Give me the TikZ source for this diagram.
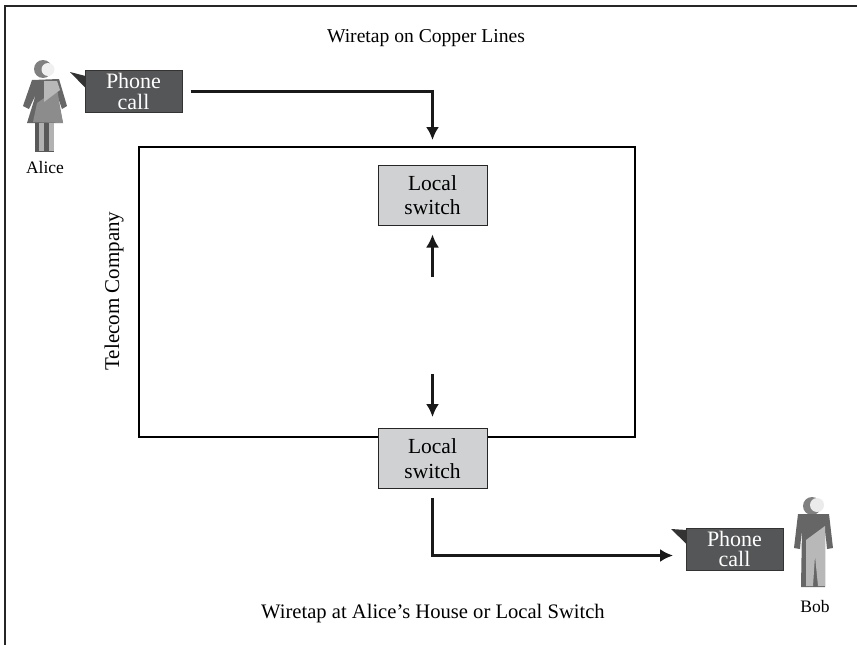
\documentclass[tikz,border=0pt]{standalone}
\usepackage{fontspec}
\setmainfont{Liberation Serif}
\usetikzlibrary{arrows.meta}
\definecolor{callgray}{HTML}{555657}
\definecolor{switchgray}{HTML}{D0D1D2}
\tikzset{
  wire/.style={line width=2.2pt,draw=black!90},
  arrowwire/.style={wire,-{Latex[length=13pt,width=13pt]}},
  callbox/.style={draw=black!80,line width=1pt,fill=callgray,text=white,align=center,
    minimum width=97pt,minimum height=42pt,inner sep=0pt,font=\fontsize{22}{20.5}\selectfont},
  switchbox/.style={draw=black!85,line width=1pt,fill=switchgray,align=center,
    minimum width=109pt,minimum height=60pt,inner sep=0pt,font=\fontsize{21.5}{24.5}\selectfont},
  caption/.style={font=\fontsize{20.6}{24}\selectfont,inner sep=0pt},
  namelabel/.style={font=\fontsize{17.5}{20}\selectfont,inner sep=0pt},
}
\begin{document}
\begin{tikzpicture}[x=1pt,y=-1pt]
\useasboundingbox (0,0) rectangle (857,645);
\draw[line width=1.2pt,black!85] (5,645)--(5,6)--(857,6);

\node[caption,font=\fontsize{19.6}{24}\selectfont] (toptitle) at (426,38) {Wiretap on Copper Lines};
\node[caption] (bottomtitle) at (433,614) {Wiretap at Alice’s House or Local Switch};

% telecom box with the two switches
\node[draw,line width=2.6pt,minimum width=496pt,minimum height=290pt,inner sep=0pt] (telecom) at (387,292) {};
\node[caption,rotate=90,font=\fontsize{21}{24}\selectfont] (telecomlabel) at (114,291) {Telecom Company};
\node[switchbox] (switchtop) at (432.5,195) {Local\\switch};
\node[switchbox] (switchbottom) at (432.5,458.5) {Local\\switch};

% Alice
\fill[black!50] (43,69) circle (9);
\fill[black!6] (48,69.5) circle (6.5);
\fill[black!60,line join=round] (32,80)--(59,79)--(67,106)--(62,109)--(56,92)--(63,123)--(27,123)--(36,94)--(29,109)--(23,106)--cycle;
\fill[black!45] (33,122)--(37,103)--(57,89)--(63,123)--cycle;
\fill[black!28] (44,81)--(57,81)--(60,90)--(44,102)--cycle;
\fill[black!65] (35,123) rectangle (54,152);
\fill[black!30] (39,123) rectangle (44,151);
\fill[black!30] (49,123) rectangle (54,151);
\node[namelabel] (alice) at (45,168) {Alice};

% Bob
\fill[black!50] (812,506) circle (9);
\fill[black!8] (817,505) circle (7);
\fill[black!60,line join=round] (798,514)--(829,514)--(833,548)--(827,549)--(825,528)--(825,587)--(801,587)--(802,528)--(800,549)--(794,548)--cycle;
\fill[black!28] (806,540)--(825,526)--(825,586)--(818,586)--(815,556)--(813,586)--(806,586)--cycle;
\node[namelabel] (bob) at (815,607) {Bob};

% phone calls
\node[callbox] (alicecall) at (133.5,91.5) {Phone\\call};
\fill[black!80] (70,72)--(85.5,76)--(85.5,88)--cycle;
\node[callbox] (bobcall) at (734.5,549) {Phone\\call};
\fill[black!80] (671,529)--(686.5,530)--(686.5,544)--cycle;

% connectors
\coordinate (aliceout) at ([xshift=8pt]alicecall.east);
\coordinate (tophit) at (432.5,140);
\draw[arrowwire] (aliceout)-|(tophit);
\coordinate (riseout) at (432.5,277);
\draw[arrowwire] (riseout)--([yshift=-9pt]switchtop.south);
\coordinate (dropout) at (432.5,374);
\draw[arrowwire] (dropout)--([yshift=11pt]switchbottom.north);
\coordinate (bobhit) at (673,555.5);
\draw[arrowwire] ([yshift=-9pt]switchbottom.south)|-(bobhit);
\end{tikzpicture}
\end{document}
